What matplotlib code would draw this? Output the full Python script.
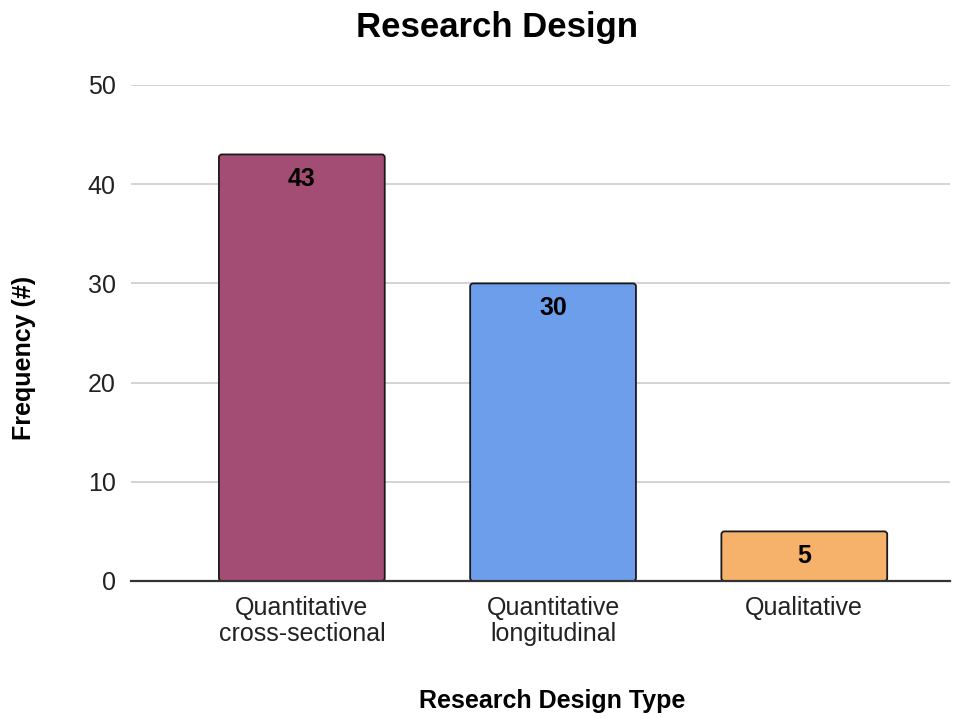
import matplotlib.pyplot as plt
from matplotlib.patches import FancyBboxPatch

plt.rcParams['font.family'] = ['Liberation Sans', 'DejaVu Sans']

categorias = ['Quantitative\ncross-sectional', 'Quantitative\nlongitudinal', 'Qualitative']
frecuencia = [43, 30, 5]
colores = ['#A44D74', '#6D9EEB', '#F6B26B']

fig = plt.figure(figsize=(9.63, 7.18), dpi=100)
ax = fig.add_axes([131 / 963, 1 - 581 / 718, (950 - 131) / 963, (581 - 85) / 718])

x = list(range(len(categorias)))
barras = ax.bar(x, frecuencia, width=0.66, color='none', edgecolor='none')

# barras con esquinas redondeadas
asp = (251 / 1.0) / (496 / 50.0)
for b, c in zip(barras, colores):
    p = FancyBboxPatch((b.get_x(), b.get_y()), b.get_width(), b.get_height(),
                       boxstyle='round,pad=0,rounding_size=0.012',
                       mutation_aspect=asp, facecolor=c, edgecolor='#1a1a1a',
                       linewidth=1.3, zorder=3)
    ax.add_patch(p)

for xi, v in zip(x, frecuencia):
    ax.annotate(str(v), (xi, v), xytext=(0, -18), textcoords='offset points',
                ha='center', va='center', fontsize=18, fontweight='bold', zorder=4)

ax.set_xlim(-0.68, 2.58)
ax.set_ylim(0, 50)
ax.set_yticks([0, 10, 20, 30, 40, 50])
ax.set_xticks(x)
ax.set_xticklabels(categorias, fontsize=18, color='#222222', linespacing=1.08)
ax.tick_params(axis='y', labelsize=18, labelcolor='#222222', length=0, pad=11)
ax.tick_params(axis='x', length=0, pad=11)
ax.grid(axis='y', color='#cccccc', linewidth=1.2, zorder=0)
ax.set_axisbelow(True)
for s in ['top', 'right', 'left']:
    ax.spines[s].set_visible(False)
ax.spines['bottom'].set_color('#333333')
ax.spines['bottom'].set_linewidth(1.6)
ax.spines['bottom'].set_zorder(5)

fig.text(497 / 963, 1 - 27 / 718, 'Research Design', ha='center', va='center',
         fontsize=25, fontweight='bold')
fig.text(552 / 963, 1 - 701 / 718, 'Research Design Type', ha='center', va='center',
         fontsize=18, fontweight='bold')
fig.text(24 / 963, 1 - 358 / 718, 'Frequency (#)', ha='center', va='center',
         rotation=90, fontsize=18, fontweight='bold')

plt.savefig('out.png', dpi=100)
